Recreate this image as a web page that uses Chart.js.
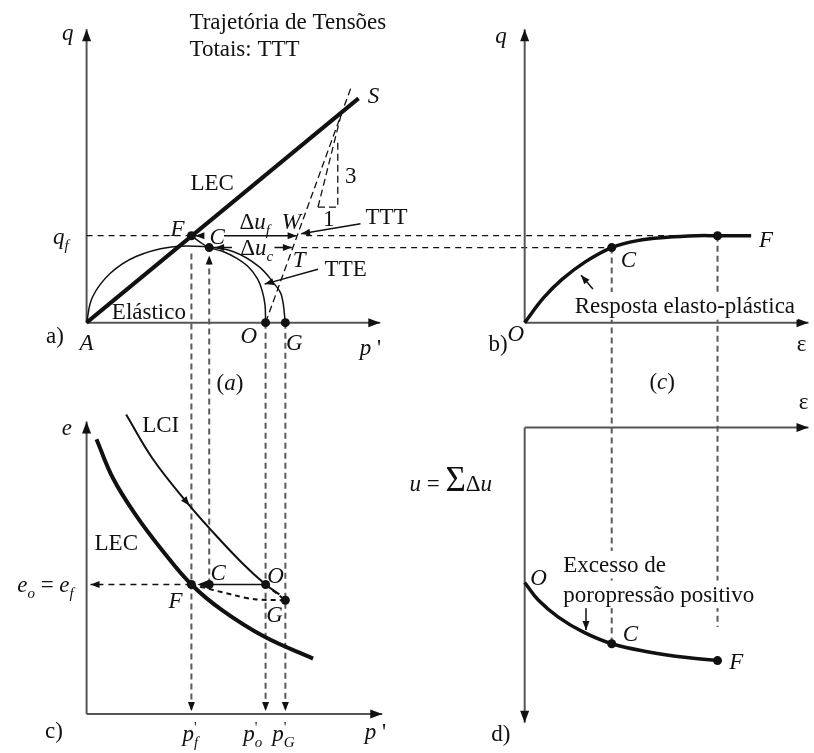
<!DOCTYPE html>
<html lang="pt">
<head>
<meta charset="UTF-8">
<title>Trajetória de tensões</title>
<script src="https://cdn.jsdelivr.net/npm/chart.js@4.4.0/dist/chart.umd.min.js"></script>
<style>
  body { margin: 0; background: #fff; }
  canvas { display: block; }
</style>
</head>
<body>
<canvas id="canvas" width="814" height="753"></canvas>
<script>
// pontos notaveis
const pF = 5.3, pC = 6.2, pO = 9.05, pG = 10.05;   // p' em (a) e (c)
const qF = 4.4, qC = 3.8;                           // q em (a) e (b)
const eO = 6.55, eG = 5.75;                         // e em (c)
const epsC = 4.4, epsF = 9.75;                      // deformacao em (b) e (d)
const uO = 7.85, uC = 10.95, uF = 11.8;             // u em (d)

// (a) q x p'
const lecA = [[0, 0], [13.75, 11.35]];
const yieldSurface = [[0, 0], [0.3, 1.3], [1.2, 2.5], [2.5, 3.35], [4.2, 3.82], [5.9, 3.85], [7.4, 3.6], [8.7, 2.85], [9.5, 1.95], [9.85, 1.4], [pG, 0]];
const tte = [[pO, 0], [9.02, 0.9], [8.88, 1.6], [8.65, 2.2], [8.2, 2.8], [7.6, 3.25], [6.9, 3.6], [pC, qC], [5.7, 4.1], [pF, qF]];
const ttt = [[pO, 0], [13.35, 11.85]];
const slopeLegs = [[11.7, 5.85], [12.7, 5.85], [12.7, 9.2]];
const slopeHyp = [[11.7, 5.85], [12.9, 10.65]];
const qfGuide = [[0, qF], [pF, qF]];
const arrowDuF = [[6.95, qF], [10.62, qF]];
const arrowToF = [[5.9, qF], [5.5, qF]];
const arrowDuC1 = [[7.35, qC], [6.5, qC]];
const arrowDuC2 = [[9.5, qC], [10.38, qC]];
const pointerTTT = [[13.85, 5.0], [10.85, 4.5]];
const pointerTTE = [[11.7, 2.7], [9.0, 1.95]];

// (b) q x deformacao
const responseB = [[0, 0], [0.95, 1.25], [1.9, 2.2], [3.1, 3.1], [epsC, qC], [5.7, 4.15], [7.2, 4.32], [8.7, 4.4], [epsF, qF], [11.45, qF]];
const pointerResp = [[3.45, 1.7], [2.85, 2.4]];

// (c) e x p'
const lecC = [[0.5, 13.9], [1.35, 11.9], [2.5, 10.05], [3.85, 8.25], [pF, eO], [6.85, 5.25], [9.0, 3.9], [11.45, 2.8]];
const lci = [[2.0, 15.15], [3.35, 12.9], [5.2, 10.55], [6.25, 9.35], [7.85, 7.65], [pO, eO], [9.75, 6.05]];
const fgPath = [[pF, eO], [7.5, 6.0], [8.5, 5.8], [pG, eG]];
const ogPath = [[pO, eO], [pG, eG]];
const coLine = [[pC, eO], [pO, eO]];
const arrowCtoF = [[pC, eO], [5.6, eO]];
const arrowE0 = [[pF, eO], [0.2, eO]];

// (d) u x deformacao
const uCurve = [[0, uO], [0.7, 8.75], [1.7, 9.6], [2.95, 10.35], [epsC, uC], [6.2, 11.35], [8.2, 11.65], [epsF, uF]];
const pointerExcess = [[3.1, 9.1], [3.1, 10.25]];

// eixos
const axisAq = [[0, 0], [0, 14.85]], axisAp = [[0, 0], [14.85, 0]];
const axisBq = [[0, 0], [0, 14.85]], axisBe = [[0, 0], [14.35, 0]];
const axisCe = [[0, 0], [0, 14.8]],  axisCp = [[0, 0], [14.95, 0]];
const axisDe = [[0, 0], [14.35, 0]], axisDu = [[0, 0], [0, 14.95]];

// ---- layout: quatro sistemas de eixos no mesmo canvas ----
const W = 814, H = 753, UNIT = 20;
function xRange(origin) { return { min: -origin / UNIT, max: (W - origin) / UNIT }; }
function yRangeUp(origin) { return { min: -(H - origin) / UNIT, max: origin / UNIT }; }
function yRangeDown(origin) { return { min: -origin / UNIT, max: (H - origin) / UNIT, reverse: true }; }

const INK = '#111111';
const AXIS = '#555555';
const GUIDE = '#5a5a5a';
const FONT = '"Liberation Serif", "DejaVu Serif", serif';

const SMALL = [9, 3.5], BIG = [12, 4.5];

function pts(arr) { return arr.map(([x, y]) => ({ x, y })); }
function line(data, xs, ys, style) {
  return Object.assign({
    data: pts(data), xAxisID: xs, yAxisID: ys, showLine: true,
    pointRadius: 0, pointHoverRadius: 0, borderColor: INK, borderWidth: 1.5,
    fill: false, tension: 0
  }, style || {});
}
function dots(data, xs, ys) {
  return {
    data: pts(data), xAxisID: xs, yAxisID: ys, showLine: false,
    pointRadius: 4.5, pointHoverRadius: 4.5, pointBackgroundColor: INK, pointBorderWidth: 0
  };
}
const dashed = { borderDash: [7, 4], borderWidth: 1.3 };
const axisStyle = { borderColor: AXIS, borderWidth: 2, arrow: BIG };

const datasets = [
  dots([[pF, qF], [pC, qC], [pO, 0], [pG, 0]], 'xl', 'yt'),
  dots([[epsC, qC], [epsF, qF]], 'xr', 'yt'),
  dots([[pF, eO], [pC, eO], [pO, eO], [pG, eG]], 'xl', 'yc'),
  dots([[epsC, uC], [epsF, uF]], 'xr', 'yd'),

  line(lecA, 'xl', 'yt', { borderWidth: 4 }),
  line(yieldSurface, 'xl', 'yt', { tension: 0.4 }),
  line(tte, 'xl', 'yt', { tension: 0.4 }),
  line(ttt, 'xl', 'yt', dashed),
  line(slopeLegs, 'xl', 'yt', dashed),
  line(slopeHyp, 'xl', 'yt', dashed),
  line(qfGuide, 'xl', 'yt', { borderDash: [6, 5], borderWidth: 1.3 }),
  line(arrowDuF, 'xl', 'yt', { arrow: SMALL }),
  line(arrowToF, 'xl', 'yt', { arrow: SMALL }),
  line(arrowDuC1, 'xl', 'yt', { arrow: SMALL }),
  line(arrowDuC2, 'xl', 'yt', { arrow: SMALL }),
  line(pointerTTT, 'xl', 'yt', { arrow: SMALL }),
  line(pointerTTE, 'xl', 'yt', { arrow: SMALL }),

  line(responseB, 'xr', 'yt', { borderWidth: 3.5, tension: 0.4 }),
  line(pointerResp, 'xr', 'yt', { arrow: SMALL }),

  line(lecC, 'xl', 'yc', { borderWidth: 4, tension: 0.4 }),
  line(lci, 'xl', 'yc', { borderWidth: 2, tension: 0.4, midArrow: 2 }),
  line(fgPath, 'xl', 'yc', { borderDash: [5, 4], borderWidth: 2, tension: 0.3 }),
  line(ogPath, 'xl', 'yc', { borderDash: [5, 4], borderWidth: 2 }),
  line(coLine, 'xl', 'yc', {}),
  line(arrowCtoF, 'xl', 'yc', { borderDash: [3, 3], arrow: SMALL }),
  line(arrowE0, 'xl', 'yc', { borderDash: [6, 5], borderWidth: 1.3, arrow: SMALL }),

  line(uCurve, 'xr', 'yd', { borderWidth: 3.5, tension: 0.4 }),
  line(pointerExcess, 'xr', 'yd', { arrow: SMALL }),

  line(axisAq, 'xl', 'yt', axisStyle), line(axisAp, 'xl', 'yt', axisStyle),
  line(axisBq, 'xr', 'yt', axisStyle), line(axisBe, 'xr', 'yt', axisStyle),
  line(axisCe, 'xl', 'yc', axisStyle), line(axisCp, 'xl', 'yc', axisStyle),
  line(axisDe, 'xr', 'yd', axisStyle), line(axisDu, 'xr', 'yd', axisStyle)
];

// linhas de chamada que passam de um grafico para outro
const guides = [
  { from: [pF, 3.5, 'xl', 'yt'], to: [pF, 0.15, 'xl', 'yc'], vertical: true, arrow: SMALL },
  { from: [pC, eO, 'xl', 'yc'], to: [pC, 3.4, 'xl', 'yt'], vertical: true, arrow: SMALL },
  { from: [pO, 0, 'xl', 'yt'], to: [pO, 0.15, 'xl', 'yc'], vertical: true, arrow: SMALL },
  { from: [pG, 0, 'xl', 'yt'], to: [pG, 0.15, 'xl', 'yc'], vertical: true, arrow: SMALL },
  { from: [11.1, qF, 'xl', 'yt'], to: [epsF, qF, 'xr', 'yt'] },
  { from: [10.85, qC, 'xl', 'yt'], to: [epsC, qC, 'xr', 'yt'] },
  { from: [epsC, qC, 'xr', 'yt'], to: [epsC, uC, 'xr', 'yd'], vertical: true },
  { from: [epsF, qF, 'xr', 'yt'], to: [epsF, 10.1, 'xr', 'yd'], vertical: true }
];

// textos: [texto, marcas] — i italico, b subscrito, p sobrescrito, s empilhado, L grande
const labels = [
  { at: [5.2, 15.25, 'xl', 'yt'], align: 'left', parts: [['Trajetória de Tensões']] },
  { at: [5.2, 13.85, 'xl', 'yt'], align: 'left', parts: [['Totais: TTT']] },
  { at: [-0.95, 14.7, 'xl', 'yt'], parts: [['q', 'i']] },
  { at: [14.5, 11.5, 'xl', 'yt'], parts: [['S', 'i']] },
  { at: [6.35, 7.1, 'xl', 'yt'], parts: [['LEC']] },
  { at: [13.35, 7.45, 'xl', 'yt'], parts: [['3']] },
  { at: [12.25, 5.25, 'xl', 'yt'], parts: [['1']] },
  { at: [4.6, 4.75, 'xl', 'yt'], parts: [['F', 'i']] },
  { at: [6.6, 4.35, 'xl', 'yt'], parts: [['C', 'i']] },
  { at: [8.5, 5.1, 'xl', 'yt'], parts: [['Δ'], ['u', 'i'], ['f', 'ib']] },
  { at: [10.35, 5.1, 'xl', 'yt'], parts: [['W', 'i']] },
  { at: [14.1, 5.35, 'xl', 'yt'], align: 'left', parts: [['TTT']] },
  { at: [8.6, 3.8, 'xl', 'yt'], parts: [['Δ'], ['u', 'i'], ['c', 'ib']] },
  { at: [10.75, 3.2, 'xl', 'yt'], parts: [['T', 'i']] },
  { at: [13.1, 2.75, 'xl', 'yt'], parts: [['TTE']] },
  { at: [3.15, 0.55, 'xl', 'yt'], parts: [['Elástico']] },
  { at: [-1.6, -0.65, 'xl', 'yt'], parts: [['a)']] },
  { at: [0, -1.0, 'xl', 'yt'], parts: [['A', 'i']] },
  { at: [8.2, -0.65, 'xl', 'yt'], parts: [['O', 'i']] },
  { at: [10.5, -1.0, 'xl', 'yt'], parts: [['G', 'i']] },
  { at: [14.35, -1.25, 'xl', 'yt'], parts: [['p', 'i'], [" '"]] },
  { at: [7.25, -3.05, 'xl', 'yt'], parts: [['('], ['a', 'i'], [')']] },
  { at: [-1.3, 4.35, 'xl', 'yt'], parts: [['q', 'i'], ['f', 'ib']] },

  { at: [-1.2, 14.5, 'xr', 'yt'], parts: [['q', 'i']] },
  { at: [12.2, 4.2, 'xr', 'yt'], parts: [['F', 'i']] },
  { at: [5.25, 3.2, 'xr', 'yt'], parts: [['C', 'i']] },
  { at: [8.1, 0.85, 'xr', 'yt'], bg: true, parts: [['Resposta elasto-plástica']] },
  { at: [-0.45, -0.55, 'xr', 'yt'], parts: [['O', 'i']] },
  { at: [-1.35, -1.05, 'xr', 'yt'], parts: [['b)']] },
  { at: [14.0, -1.05, 'xr', 'yt'], parts: [['ε']] },
  { at: [6.95, -3.0, 'xr', 'yt'], parts: [['('], ['c', 'i'], [')']] },

  { at: [-1.0, 14.5, 'xl', 'yc'], parts: [['e', 'i']] },
  { at: [3.75, 14.65, 'xl', 'yc'], parts: [['LCI']] },
  { at: [1.5, 8.65, 'xl', 'yc'], parts: [['LEC']] },
  { at: [-0.65, eO, 'xl', 'yc'], align: 'right', parts: [['e', 'i'], ['o', 'ib'], [' = '], ['e', 'i'], ['f', 'ib']] },
  { at: [6.65, 7.15, 'xl', 'yc'], parts: [['C', 'i']] },
  { at: [9.55, 7.0, 'xl', 'yc'], parts: [['O', 'i']] },
  { at: [4.5, 5.75, 'xl', 'yc'], parts: [['F', 'i']] },
  { at: [9.5, 5.0, 'xl', 'yc'], parts: [['G', 'i']] },
  { at: [-1.65, -0.85, 'xl', 'yc'], parts: [['c)']] },
  { at: [5.25, -1.0, 'xl', 'yc'], parts: [['p', 'i'], ["'", 'p'], ['f', 'ibs']] },
  { at: [8.4, -1.0, 'xl', 'yc'], parts: [['p', 'i'], ["'", 'p'], ['o', 'ibs']] },
  { at: [9.95, -1.0, 'xl', 'yc'], parts: [['p', 'i'], ["'", 'p'], ['G', 'ibs']] },
  { at: [14.6, -0.9, 'xl', 'yc'], parts: [['p', 'i'], [" '"]] },

  { at: [14.1, -1.3, 'xr', 'yd'], parts: [['ε']] },
  { at: [-1.65, 2.85, 'xr', 'yd'], align: 'right', parts: [['u', 'i'], [' = '], ['Σ', 'L'], ['Δ'], ['u', 'i']] },
  { at: [0.7, 7.6, 'xr', 'yd'], parts: [['O', 'i']] },
  { at: [1.95, 6.95, 'xr', 'yd'], align: 'left', bg: true, parts: [['Excesso de']] },
  { at: [1.95, 8.45, 'xr', 'yd'], align: 'left', bg: true, parts: [['poropressão positivo']] },
  { at: [5.35, 10.45, 'xr', 'yd'], parts: [['C', 'i']] },
  { at: [10.7, 11.85, 'xr', 'yd'], parts: [['F', 'i']] },
  { at: [-1.2, 15.5, 'xr', 'yd'], parts: [['d)']] }
];

function head(ctx, x, y, angle, size, color) {
  const [len, half] = size;
  const c = Math.cos(angle), s = Math.sin(angle);
  ctx.save();
  ctx.fillStyle = color;
  ctx.beginPath();
  ctx.moveTo(x, y);
  ctx.lineTo(x - len * c + half * s, y - len * s - half * c);
  ctx.lineTo(x - len * c - half * s, y - len * s + half * c);
  ctx.closePath();
  ctx.fill();
  ctx.restore();
}

function toPixel(chart, [x, y, xs, ys]) {
  return [chart.scales[xs].getPixelForValue(x), chart.scales[ys].getPixelForValue(y)];
}

const guidePlugin = {
  id: 'guides',
  beforeDatasetsDraw(chart) {
    const ctx = chart.ctx;
    guides.forEach(g => {
      const [x0, y0] = toPixel(chart, g.from);
      const [x1, y1] = toPixel(chart, g.to);
      ctx.save();
      ctx.strokeStyle = g.vertical ? GUIDE : INK;
      ctx.lineWidth = g.vertical ? 2 : 1.3;
      ctx.setLineDash(g.vertical ? [6, 4] : [6, 5]);
      ctx.beginPath();
      ctx.moveTo(x0, y0);
      ctx.lineTo(x1, y1);
      ctx.stroke();
      ctx.restore();
      if (g.arrow) head(ctx, x1, y1, Math.atan2(y1 - y0, x1 - x0), g.arrow, INK);
    });
  }
};

const arrowPlugin = {
  id: 'arrows',
  afterDatasetsDraw(chart) {
    const ctx = chart.ctx;
    chart.data.datasets.forEach((ds, i) => {
      const p = chart.getDatasetMeta(i).data;
      if (ds.arrow) {
        const a = p[p.length - 2], b = p[p.length - 1];
        head(ctx, b.x, b.y, Math.atan2(b.y - a.y, b.x - a.x), ds.arrow, INK);
      }
      if (ds.midArrow !== undefined) {
        const k = ds.midArrow, a = p[k - 1], b = p[k + 1];
        head(ctx, p[k].x, p[k].y, Math.atan2(b.y - a.y, b.x - a.x), SMALL, INK);
      }
    });
  }
};

const labelPlugin = {
  id: 'labels',
  afterDraw(chart) {
    const ctx = chart.ctx;
    const base = 23;
    labels.forEach(lb => {
      const [x, y] = toPixel(chart, lb.at);
      const items = lb.parts.map(([t, f = '']) => {
        const size = f.includes('L') ? 35 : (f.includes('b') || f.includes('p')) ? 15 : base;
        const font = (f.includes('i') ? 'italic ' : '') + size + 'px ' + FONT;
        ctx.font = font;
        return { t, f, font, w: ctx.measureText(t).width, dy: f.includes('b') ? 6 : f.includes('p') ? -9 : 0 };
      });
      let total = 0, prevStart = 0, prevW = 0;
      items.forEach(it => {
        if (it.f.includes('s')) {
          it.x = prevStart;
          total = prevStart + Math.max(prevW, it.w);
        } else {
          it.x = total;
          prevStart = total;
          prevW = it.w;
          total += it.w;
        }
      });
      const align = lb.align || 'center';
      const sx = align === 'left' ? x : align === 'right' ? x - total : x - total / 2;
      const baseline = y + base * 0.32;
      ctx.save();
      if (lb.bg) {
        ctx.fillStyle = '#fff';
        ctx.fillRect(sx - 3, y - base * 0.6, total + 6, base * 1.2);
      }
      ctx.fillStyle = INK;
      ctx.textBaseline = 'alphabetic';
      ctx.textAlign = 'left';
      items.forEach(it => {
        ctx.font = it.font;
        ctx.fillText(it.t, sx + it.x, baseline + it.dy);
      });
      ctx.restore();
    });
  }
};

new Chart(document.getElementById('canvas').getContext('2d'), {
  type: 'scatter',
  data: { datasets },
  options: {
    responsive: false,
    devicePixelRatio: 1,
    animation: false,
    events: [],
    layout: { padding: 0 },
    plugins: { legend: { display: false }, tooltip: { enabled: false } },
    scales: {
      xl: Object.assign({ type: 'linear', display: false }, xRange(83)),
      xr: Object.assign({ type: 'linear', display: false }, xRange(526)),
      yt: Object.assign({ type: 'linear', display: false }, yRangeUp(322)),
      yc: Object.assign({ type: 'linear', display: false }, yRangeUp(718)),
      yd: Object.assign({ type: 'linear', display: false }, yRangeDown(428))
    }
  },
  plugins: [guidePlugin, arrowPlugin, labelPlugin]
});
</script>
</body>
</html>
